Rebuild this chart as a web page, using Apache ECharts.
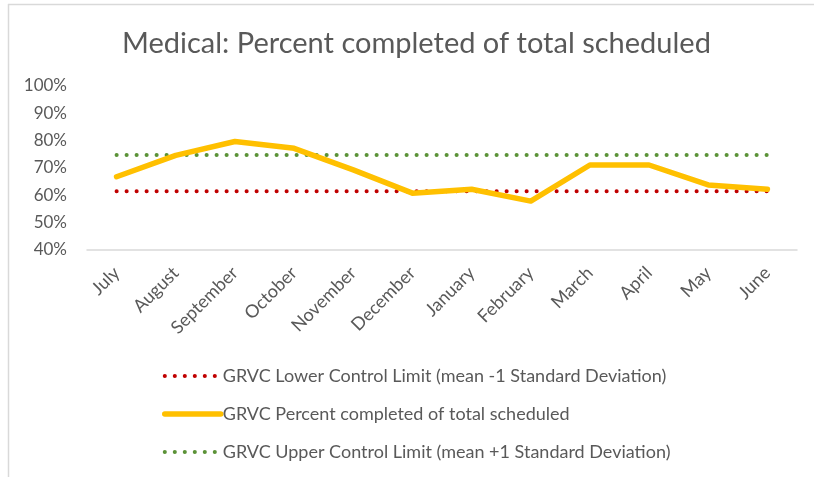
<!DOCTYPE html>
<html>
<head>
<meta charset="utf-8" />
<title>Medical: Percent completed of total scheduled</title>
<script src="https://cdn.jsdelivr.net/npm/echarts@6/dist/echarts.min.js"></script>
<style>
	html, body { margin: 0; padding: 0; background: #fff; }
	#chart { width: 814px; height: 477px; }
</style>
</head>
<body>
<div id="chart"></div>
<script>
	// data
	var months = ['July', 'August', 'September', 'October', 'November', 'December',
		'January', 'February', 'March', 'April', 'May', 'June'];
	var percentCompleted = [66.8, 74.6, 79.7, 77.2, 69.3, 60.8, 62.2, 57.9, 71.1, 71.1, 63.8, 62.2];
	var lowerLimit = [61.5, 61.5, 61.5, 61.5, 61.5, 61.5, 61.5, 61.5, 61.5, 61.5, 61.5, 61.5];
	var upperLimit = [74.8, 74.8, 74.8, 74.8, 74.8, 74.8, 74.8, 74.8, 74.8, 74.8, 74.8, 74.8];

	var nameLow = 'GRVC Lower Control Limit (mean -1 Standard Deviation)';
	var namePct = 'GRVC Percent completed of total scheduled';
	var nameUp = 'GRVC Upper Control Limit (mean +1 Standard Deviation)';

	var font = 'Lato, "Open Sans", sans-serif';
	var chart = echarts.init(document.getElementById('chart'));

	var option = {
		animation: false,
		backgroundColor: '#fff',
		textStyle: { fontFamily: font },
		title: {
			text: 'Medical: Percent completed of total scheduled',
			left: 117,
			top: 24,
			textStyle: { fontFamily: font, fontSize: 29, fontWeight: 'normal', color: '#595959' }
		},
		// chart frame (left and top edges only are visible)
		graphic: [
			{ type: 'line', shape: { x1: 8.5, y1: 4, x2: 8.5, y2: 477 }, style: { stroke: '#d9d9d9', lineWidth: 1.5 } },
			{ type: 'line', shape: { x1: 8, y1: 4.5, x2: 814, y2: 4.5 }, style: { stroke: '#d9d9d9', lineWidth: 1.5 } }
		],
		legend: {
			orient: 'vertical',
			left: 157,
			top: 362,
			itemGap: 20,
			itemWidth: 56,
			itemHeight: 12,
			itemStyle: { opacity: 0 },
			textStyle: { fontFamily: font, fontSize: 18, color: '#595959', padding: [0, 0, 0, -3] },
			data: [
				{ name: nameLow, lineStyle: { width: 4 } },
				{ name: namePct, lineStyle: { width: 5.5 } },
				{ name: nameUp, lineStyle: { width: 4 } }
			]
		},
		grid: { left: 87, right: 17, top: 86, bottom: 227 },
		xAxis: {
			type: 'category',
			data: months,
			axisLine: { lineStyle: { color: '#d9d9d9', width: 1.5 } },
			axisTick: { show: false },
			axisLabel: { rotate: 45, color: '#595959', fontSize: 18, margin: 20, fontFamily: font }
		},
		yAxis: {
			type: 'value',
			min: 40,
			max: 100,
			interval: 10,
			splitLine: { show: false },
			axisLine: { show: false },
			axisTick: { show: false },
			axisLabel: { formatter: '{value}%', color: '#595959', fontSize: 17, margin: 20, fontFamily: font }
		},
		series: [
			{
				name: nameLow,
				type: 'line',
				data: lowerLimit,
				symbol: 'none',
				color: '#c00000',
				lineStyle: { width: 4, type: [0.1, 9.9], cap: 'round', color: '#c00000' }
			},
			{
				name: namePct,
				type: 'line',
				data: percentCompleted,
				symbol: 'none',
				color: '#ffc000',
				lineStyle: { width: 5.5, color: '#ffc000', join: 'round', cap: 'round' }
			},
			{
				name: nameUp,
				type: 'line',
				data: upperLimit,
				symbol: 'none',
				color: '#548235',
				z: 1,
				lineStyle: { width: 4, type: [0.1, 9.9], cap: 'round', color: '#5b9237' }
			}
		]
	};
	chart.setOption(option);
</script>
</body>
</html>
